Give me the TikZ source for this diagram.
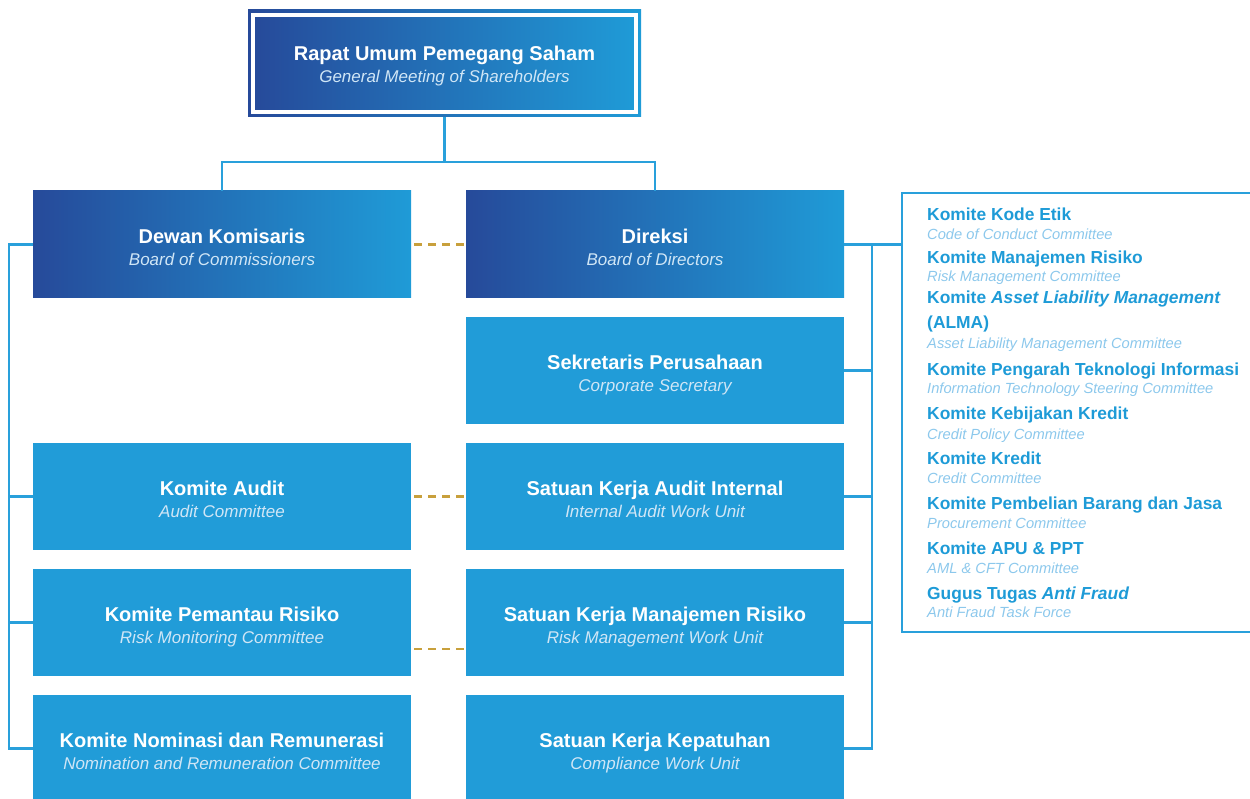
\documentclass[tikz,border=0pt]{standalone}
\usepackage{fontspec}
\setmainfont{Liberation Sans}
\definecolor{navy}{RGB}{38,74,154}
\definecolor{sky}{RGB}{31,155,215}
\definecolor{unitblue}{RGB}{33,156,216}
\definecolor{linkblue}{RGB}{41,160,219}
\definecolor{gold}{RGB}{200,160,60}
\definecolor{subwhite}{RGB}{208,230,246}
\definecolor{komblue}{RGB}{30,155,215}
\definecolor{subcyan}{RGB}{140,200,236}
\tikzset{
  orgbox/.style={minimum width=378pt, minimum height=107pt, inner sep=0pt, text=white, align=center,
    font=\fontsize{20}{22}\selectfont, text height=42pt, text depth=0pt},
  gradbox/.style={orgbox, left color=navy, right color=sky},
  flatbox/.style={orgbox, fill=unitblue},
  link/.style={draw=linkblue, line width=2.5pt},
  dashlink/.style={draw=gold, line width=2.5pt, dash pattern=on 8pt off 6pt, shorten <=3pt, shorten >=2pt},
  komtitle/.style={anchor=base west, inner sep=0pt, text=komblue, font=\fontsize{17.4}{20}\selectfont\bfseries},
  komsub/.style={anchor=base west, inner sep=0pt, text=subcyan, font=\fontsize{14.7}{17}\selectfont\itshape}
}
\newcommand{\sub}[1]{{\color{subwhite}\fontsize{17}{22}\selectfont\itshape #1}}
\begin{document}
\begin{tikzpicture}[x=1pt,y=-1pt]
  \useasboundingbox (0,0) rectangle (1250,799);
  % top
  \node[gradbox, minimum width=393pt] (rupsframe) at (444.5,63.5) {};
  \node[gradbox, draw=white, line width=4pt, minimum width=383pt, minimum height=97pt, text height=39pt] (rups) at (444.5,63.5)
    {\textbf{Rapat Umum Pemegang Saham}\\\sub{General Meeting of Shareholders}};
  % left column
  \node[gradbox] (dekom) at (222,244.5) {\textbf{Dewan Komisaris}\\\sub{Board of Commissioners}};
  \node[flatbox] (audit) at (222,496.5) {\textbf{Komite Audit}\\\sub{Audit Committee}};
  \node[flatbox] (pemantau) at (222,622.5) {\textbf{Komite Pemantau Risiko}\\\sub{Risk Monitoring Committee}};
  \node[flatbox] (nominasi) at (222,748.5) {\textbf{Komite Nominasi dan Remunerasi}\\\sub{Nomination and Remuneration Committee}};
  % right column
  \node[gradbox] (direksi) at (655,244.5) {\textbf{Direksi}\\\sub{Board of Directors}};
  \node[flatbox] (sekper) at (655,370.5) {\textbf{Sekretaris Perusahaan}\\\sub{Corporate Secretary}};
  \node[flatbox] (skai) at (655,496.5) {\textbf{Satuan Kerja Audit Internal}\\\sub{Internal Audit Work Unit}};
  \node[flatbox] (skmr) at (655,622.5) {\textbf{Satuan Kerja Manajemen Risiko}\\\sub{Risk Management Work Unit}};
  \node[flatbox] (kepatuhan) at (655,748.5) {\textbf{Satuan Kerja Kepatuhan}\\\sub{Compliance Work Unit}};
  % committees
  \node[draw=linkblue, line width=2.5pt, minimum width=358pt, minimum height=439pt] (komite) at (1081,412.5) {};
  \node[komtitle] (kodeetik) at (927,220.5) {Komite Kode Etik};
  \node[komsub] (kodeetiksub) at (927,240) {Code of Conduct Committee};
  \node[komtitle] (manrisk) at (927,263.5) {Komite Manajemen Risiko};
  \node[komsub] (manrisksub) at (927,282) {Risk Management Committee};
  \node[komtitle] (alma) at (927,304) {Komite \textit{Asset Liability Management}};
  \node[komtitle] (almab) at (927,329) {(ALMA)};
  \node[komsub] (almasub) at (927,349) {Asset Liability Management Committee};
  \node[komtitle] (pengarah) at (927,375) {Komite Pengarah Teknologi Informasi};
  \node[komsub] (pengarahsub) at (927,393.5) {Information Technology Steering Committee};
  \node[komtitle] (kebijakan) at (927,419) {Komite Kebijakan Kredit};
  \node[komsub] (kebijakansub) at (927,439) {Credit Policy Committee};
  \node[komtitle] (kredit) at (927,464) {Komite Kredit};
  \node[komsub] (kreditsub) at (927,483) {Credit Committee};
  \node[komtitle] (pembelian) at (927,509) {Komite Pembelian Barang dan Jasa};
  \node[komsub] (pembeliansub) at (927,528) {Procurement Committee};
  \node[komtitle] (apu) at (927,554) {Komite APU \& PPT};
  \node[komsub] (apusub) at (927,573) {AML \& CFT Committee};
  \node[komtitle] (fraud) at (927,599) {Gugus Tugas \textit{Anti Fraud}};
  \node[komsub] (fraudsub) at (927,617.5) {Anti Fraud Task Force};
  % lines
  \coordinate (split) at (444.5,162);
  \coordinate (lbus) at (9,0);
  \coordinate (rbus) at (872,0);
  \draw[link] (rupsframe.south) -- (split);
  \draw[link] (dekom.north) |- (split) -| (direksi.north);
  \draw[link] (dekom.west) -- (dekom.west -| lbus) |- (nominasi.west);
  \draw[link] (audit.west) -- (audit.west -| lbus);
  \draw[link] (pemantau.west) -- (pemantau.west -| lbus);
  \draw[link] (direksi.east) -- (direksi.east -| rbus) |- (kepatuhan.east);
  \draw[link] (direksi.east -| rbus) -- (direksi.east -| komite.west);
  \draw[link] (sekper.east) -- (sekper.east -| rbus);
  \draw[link] (skai.east) -- (skai.east -| rbus);
  \draw[link] (skmr.east) -- (skmr.east -| rbus);
  \draw[dashlink] (dekom.east) -- (direksi.west);
  \draw[dashlink] (audit.east) -- (skai.west);
  \draw[dashlink] ([yshift=-26.5pt]pemantau.east) -- ([yshift=-26.5pt]skmr.west);
\end{tikzpicture}
\end{document}
